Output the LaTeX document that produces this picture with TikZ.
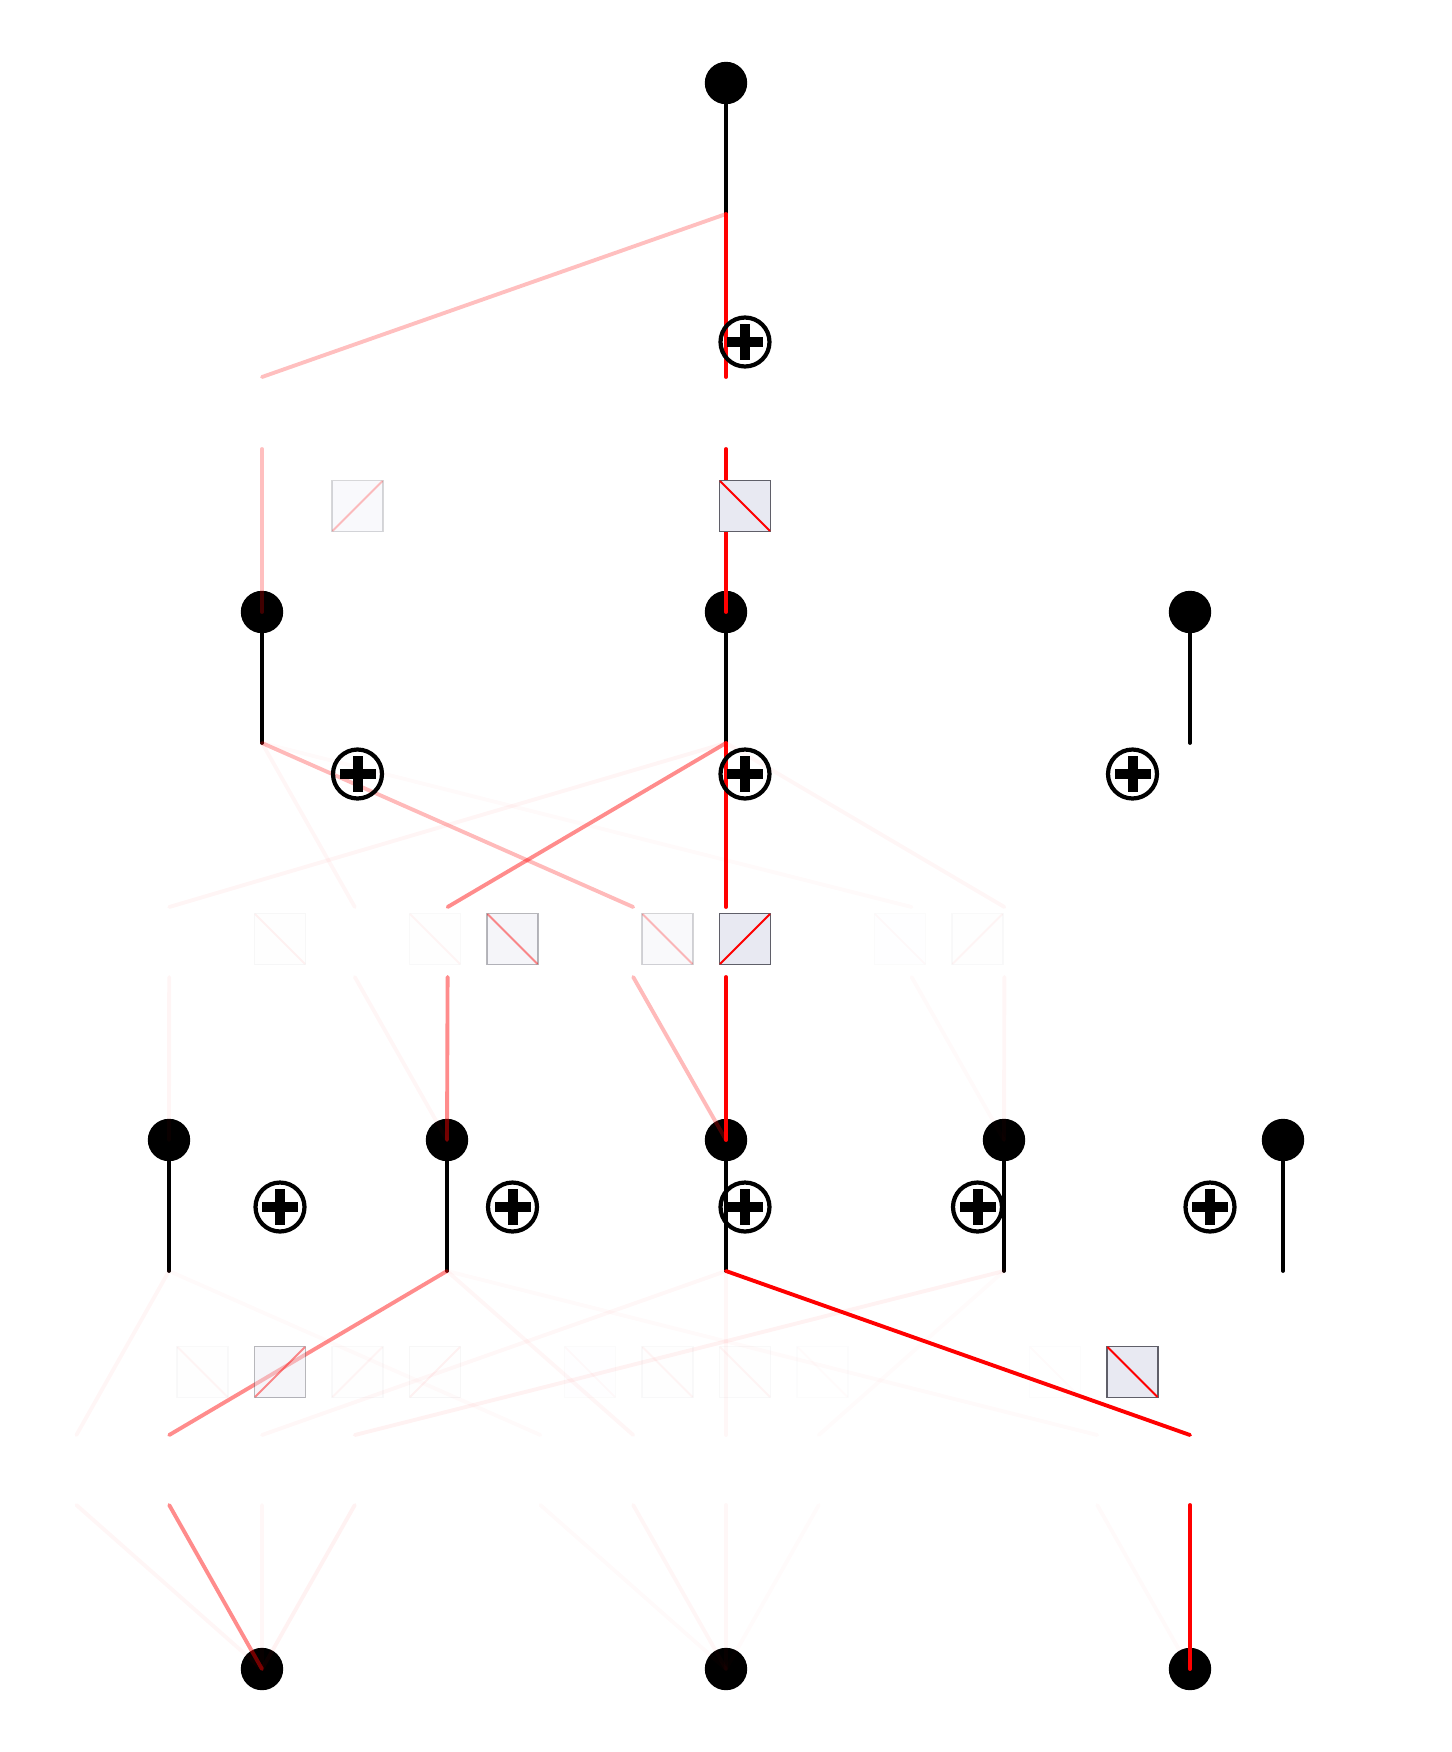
\documentclass[tikz,border=0pt]{standalone}
\usetikzlibrary{calc}
\definecolor{boxfill}{RGB}{232,233,242}
\definecolor{boxline}{RGB}{95,95,105}
\definecolor{edgered}{RGB}{255,0,0}
\begin{document}
\begin{tikzpicture}[x=0.02cm,y=-0.02cm,
  dot/.style={circle,fill=black,inner sep=0pt,minimum size=0.848cm},
  stem/.style={line width=2.1pt,black,line cap=round},
  edge/.style={line width=2.2pt,edgered,line cap=round},
  ebox/.style={rectangle,inner sep=0pt,minimum size=1.02cm,fill=boxfill,draw=boxline,line width=0.8pt},
  diagline/.style={line width=1.1pt,edgered,line cap=round,shorten <=1.2pt,shorten >=1.2pt},
  oplus/.style={circle,draw=black,line width=2.4pt,inner sep=0pt,minimum size=0.98cm,
    path picture={
      \fill[black] ([xshift=-0.36cm,yshift=-0.1cm]path picture bounding box.center) rectangle ++(0.72cm,0.2cm);
      \fill[black] ([xshift=-0.1cm,yshift=-0.36cm]path picture bounding box.center) rectangle ++(0.2cm,0.72cm);
    }}
]
\useasboundingbox (0,0) rectangle (1452,1752);

% ---------------- dots ----------------
\node[dot] (A) at (726,83) {};
\node[dot] (B0) at (262,612) {};
\node[dot] (B1) at (726,612) {};
\node[dot] (B2) at (1190,612) {};
\node[dot] (C0) at (169,1140) {};
\node[dot] (C1) at (447,1140) {};
\node[dot] (C2) at (726,1140) {};
\node[dot] (C3) at (1004,1140) {};
\node[dot] (C4) at (1283,1140) {};
\node[dot] (D0) at (262,1669) {};
\node[dot] (D1) at (726,1669) {};
\node[dot] (D2) at (1190,1669) {};

% ---------------- stems ----------------
\coordinate (As) at (726,214);
\coordinate (Bs0) at (262,743);
\coordinate (Bs1) at (726,743);
\coordinate (Bs2) at (1190,743);
\coordinate (Cs0) at (169,1271);
\coordinate (Cs1) at (447,1271);
\coordinate (Cs2) at (726,1271);
\coordinate (Cs3) at (1004,1271);
\coordinate (Cs4) at (1283,1271);
\draw[stem] (A.center) -- (As);
\foreach \i in {0,1,2} {\draw[stem] (B\i.center) -- (Bs\i);}
\foreach \j in {0,1,2,3,4} {\draw[stem] (C\j.center) -- (Cs\j);}

% ---------------- top edges (A -> B) ----------------
\coordinate (tu0) at (262,377);
\coordinate (tl0) at (262,449);
\coordinate (tu1) at (726,377);
\coordinate (tl1) at (726,449);
\draw[edge,opacity=0.25] (As) -- (tu0);
\draw[edge,opacity=0.25] (tl0) -- (B0.center);
\draw[edge] (As) -- (tu1);
\draw[edge] (tl1) -- (B1.center);

% ---------------- middle edges (B -> C) ----------------
\foreach \m/\i/\j/\a in {1/1/0/0.04, 3/0/1/0.035, 4/1/1/0.45, 6/0/2/0.27, 7/1/2/1, 9/0/3/0.02, 10/1/3/0.035} {
  \coordinate (mu\m) at ({726+(\m-7)*92.8},907);
  \coordinate (ml\m) at ({726+(\m-7)*92.8},977);
  \draw[edge,opacity=\a] (Bs\i) -- (mu\m);
  \draw[edge,opacity=\a] (ml\m) -- (C\j.center);
}

% ---------------- bottom edges (C -> D) ----------------
\foreach \m/\i/\j/\a in {0/0/0/0.035, 1/0/1/0.45, 2/0/2/0.03, 3/0/3/0.05, 5/1/0/0.02, 6/1/1/0.035, 7/1/2/0.03, 8/1/3/0.015, 11/2/1/0.02, 12/2/2/1} {
  \coordinate (bu\m) at ({726+(\m-7)*92.8},1435);
  \coordinate (bl\m) at ({726+(\m-7)*92.8},1505);
  \draw[edge,opacity=\a] (Cs\j) -- (bu\m);
  \draw[edge,opacity=\a] (bl\m) -- (D\i.center);
}

% ---------------- boxes ----------------
\node[ebox,fill opacity=0.25,draw opacity=0.25] (tb0) at (357.5,506) {};
\draw[diagline,opacity=0.25] (tb0.-135) -- (tb0.45);
\node[ebox] (tb1) at (745,506) {};
\draw[diagline] (tb1.135) -- (tb1.-45);

\foreach \m/\a/\s/\e in {1/0.05/135/-45, 3/0.04/135/-45, 4/0.45/135/-45, 6/0.27/135/-45, 7/1/-135/45, 9/0.025/135/-45, 10/0.04/-135/45} {
  \node[ebox,fill opacity=\a,draw opacity=\a] (mb\m) at ({745+(\m-7)*77.5},939) {};
  \draw[diagline,opacity=\a] (mb\m.\s) -- (mb\m.\e);
}

\foreach \m/\a/\s/\e in {0/0.04/135/-45, 1/0.45/-135/45, 2/0.04/-135/45, 3/0.05/-135/45, 5/0.025/135/-45, 6/0.04/135/-45, 7/0.04/135/-45, 8/0.015/135/-45, 11/0.015/135/-45, 12/1/135/-45} {
  \node[ebox,fill opacity=\a,draw opacity=\a] (bb\m) at ({745+(\m-7)*77.5},1372) {};
  \draw[diagline,opacity=\a] (bb\m.\s) -- (bb\m.\e);
}

% ---------------- oplus nodes ----------------
\node[oplus] (P0) at (745,342) {};
\node[oplus] (Q0) at (357.5,774) {};
\node[oplus] (Q1) at (745,774) {};
\node[oplus] (Q2) at (1132.5,774) {};
\node[oplus] (R0) at (280,1207) {};
\node[oplus] (R1) at (512.5,1207) {};
\node[oplus] (R2) at (745,1207) {};
\node[oplus] (R3) at (977.5,1207) {};
\node[oplus] (R4) at (1210,1207) {};
\end{tikzpicture}
\end{document}
